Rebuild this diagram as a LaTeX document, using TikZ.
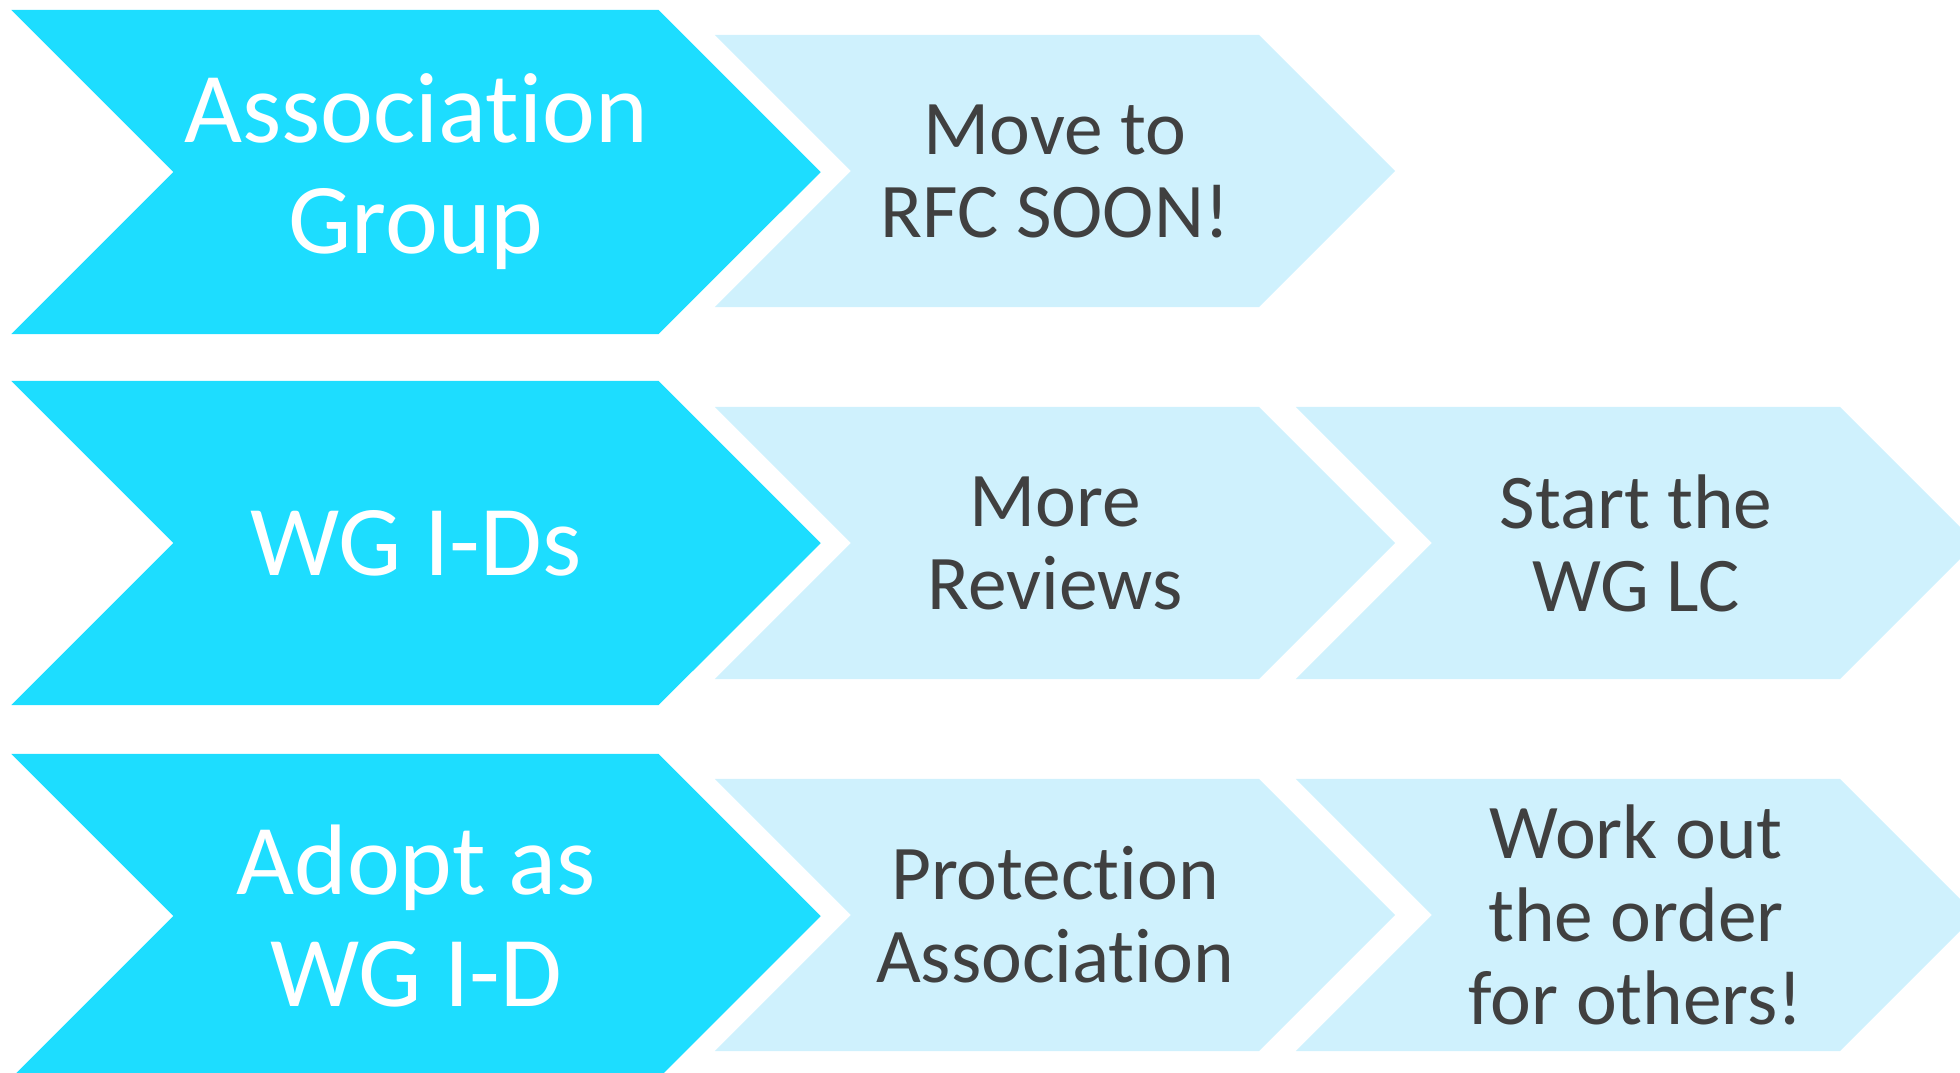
\documentclass[tikz,border=0pt]{standalone}
\usepackage{fontspec}
\setmainfont{Carlito}[Ligatures={NoCommon}]
\usetikzlibrary{shapes.symbols, positioning}

\definecolor{stagecyan}{HTML}{1DDDFF}
\definecolor{tasklight}{HTML}{CFF1FD}
\definecolor{textgray}{HTML}{404040}

\begin{document}
\begin{tikzpicture}[x=0.01cm, y=-0.01cm,
    chevron/.style={signal, signal from=west, signal to=east, signal pointer angle=90, inner sep=0pt, align=center},
    stage/.style={chevron, fill=stagecyan, minimum width=8.09cm, minimum height=3.24cm, text=white, font=\fontsize{28.5}{31.6}\selectfont},
    task/.style={chevron, fill=tasklight, minimum width=6.8cm, minimum height=2.72cm, text=textgray, font=\fontsize{22}{23.6}\selectfont}
]
\useasboundingbox (0,0) rectangle (1960,1072);
\clip (0,0) rectangle (1960,1072);

% ==== Stages (left column) ====
\node[stage] (assoc) at (416,172) {Association\\Group};
\node[stage] (wgids) at (416,543) {WG I-Ds};
\node[stage] (adopt) at (416,916) {Adopt as\\WG I-D};

% ==== Next steps ====
\node[task] (rfc) at (1055,171) {Move to\\RFC SOON!};
\node[task] (reviews) at (1055,543) {More\\Reviews};
\node[task] (wglc) at (1636,543) {Start the\\WG LC};
\node[task] (protect) at (1055,915) {Protection\\Association};
\node[task] (order) at (1636,915) {Work out\\the order\\for others!};

\end{tikzpicture}
\end{document}
